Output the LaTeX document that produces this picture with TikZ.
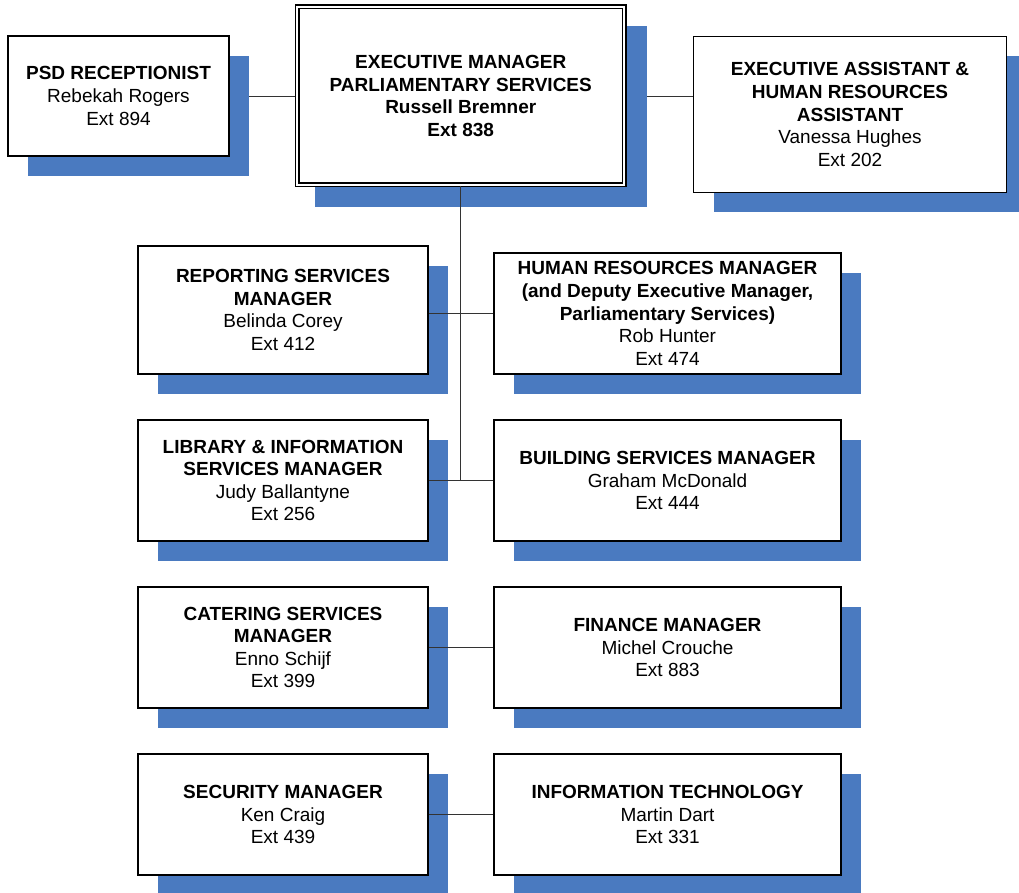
\documentclass[tikz,border=0pt]{standalone}
\usepackage{fontspec}
\setmainfont{Liberation Sans}
\usetikzlibrary{shadows,backgrounds}
\definecolor{shadowblue}{HTML}{4A7AC0}

\begin{document}
\begin{tikzpicture}[x=1pt, y=-1pt,
    postbox/.style={draw, line width=1.4pt, fill=white, align=center, inner sep=0pt,
        font=\fontsize{19}{22.6}\selectfont,
        drop shadow={shadow xshift=20pt, shadow yshift=-20pt, fill=shadowblue, opacity=1}},
    chiefbox/.style={postbox, double=white, double distance=2.2pt,
        drop shadow={shadow xshift=20pt, shadow yshift=-20pt, shadow scale=1.015, fill=shadowblue, opacity=1}},
    link/.style={line width=0.9pt, black!80}]

\useasboundingbox (0,0) rectangle (1019,893);

% top row
\node[postbox, minimum width=221pt, minimum height=120pt] (psd) at (118.5,96)
    {\textbf{PSD RECEPTIONIST}\\Rebekah Rogers\\Ext 894};
\node[chiefbox, minimum width=327pt, minimum height=178pt] (exec) at (460.75,96)
    {\textbf{EXECUTIVE MANAGER}\\\textbf{PARLIAMENTARY SERVICES}\\\textbf{Russell Bremner}\\\textbf{Ext 838}};
\node[postbox, minimum width=313pt, minimum height=156pt] (asst) at (850,114.5)
    {\textbf{EXECUTIVE ASSISTANT \&}\\\textbf{HUMAN RESOURCES}\\\textbf{ASSISTANT}\\Vanessa Hughes\\Ext 202};

% left column
\node[postbox, minimum width=290pt, minimum height=128pt] (rep) at (283,310)
    {\textbf{REPORTING SERVICES}\\\textbf{MANAGER}\\Belinda Corey\\Ext 412};
\node[postbox, minimum width=290pt, minimum height=121pt] (lib) at (283,480.5)
    {\textbf{LIBRARY \& INFORMATION}\\\textbf{SERVICES MANAGER}\\Judy Ballantyne\\Ext 256};
\node[postbox, minimum width=290pt, minimum height=121pt] (cat) at (283,647.5)
    {\textbf{CATERING SERVICES}\\\textbf{MANAGER}\\Enno Schijf\\Ext 399};
\node[postbox, minimum width=290pt, minimum height=121pt] (sec) at (283,814.5)
    {\textbf{SECURITY MANAGER}\\Ken Craig\\Ext 439};

% right column
\node[postbox, minimum width=347pt, minimum height=121pt] (hr) at (667.5,313.5)
    {\textbf{HUMAN RESOURCES MANAGER}\\\textbf{(and Deputy Executive Manager,}\\\textbf{Parliamentary Services)}\\Rob Hunter\\Ext 474};
\node[postbox, minimum width=347pt, minimum height=121pt] (bld) at (667.5,480.5)
    {\textbf{BUILDING SERVICES MANAGER}\\Graham McDonald\\Ext 444};
\node[postbox, minimum width=347pt, minimum height=121pt] (fin) at (667.5,647.5)
    {\textbf{FINANCE MANAGER}\\Michel Crouche\\Ext 883};
\node[postbox, minimum width=347pt, minimum height=121pt] (it) at (667.5,814.5)
    {\textbf{INFORMATION TECHNOLOGY}\\Martin Dart\\Ext 331};

% links
\begin{scope}[on background layer]
    \draw[link] (psd.east) -- (exec.west);
    \draw[link] (exec.east) -- (asst.west |- exec.east);
\end{scope}
\draw[link] (exec.south) -- (exec.south |- lib.east);
\draw[link] (hr.west -| rep.east) -- (hr.west);
\draw[link] (lib.east) -- (bld.west);
\draw[link] (cat.east) -- (fin.west);
\draw[link] (sec.east) -- (it.west);

\end{tikzpicture}
\end{document}
